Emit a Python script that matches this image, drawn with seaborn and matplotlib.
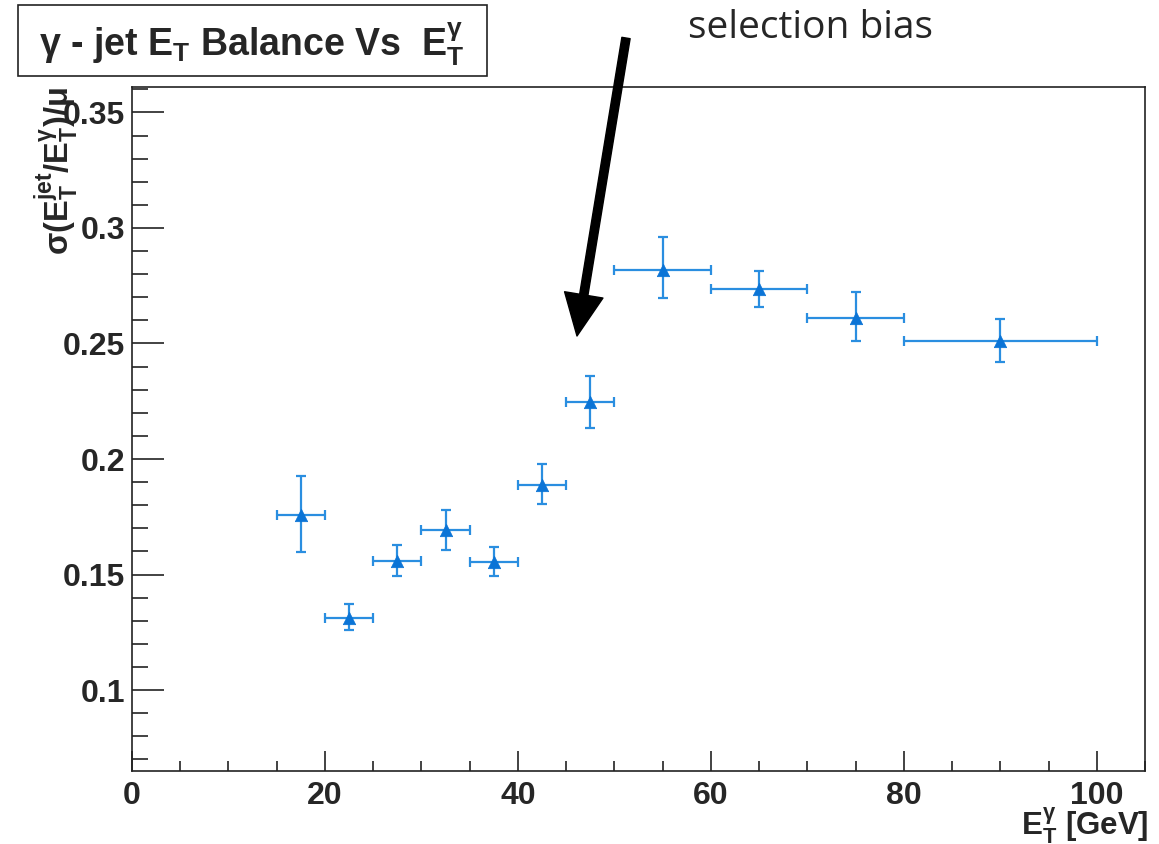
import matplotlib
matplotlib.use("Agg")
import matplotlib.pyplot as plt
from matplotlib.patches import Rectangle, FancyArrowPatch
from matplotlib.ticker import MultipleLocator, FixedLocator, FuncFormatter
import seaborn as sns
import pandas as pd

# ---- data ----
et_center = [17.5, 22.5, 27.5, 32.5, 37.5, 42.5, 47.5, 55.0, 65.0, 75.0, 90.0]
et_halfwidth = [2.5, 2.5, 2.5, 2.5, 2.5, 2.5, 2.5, 5.0, 5.0, 5.0, 10.0]
resolution = [0.1757, 0.1313, 0.1558, 0.1692, 0.1555, 0.1887, 0.2248, 0.2820, 0.2735, 0.2611, 0.2509]
err_up = [0.0170, 0.0058, 0.0071, 0.0087, 0.0065, 0.0090, 0.0112, 0.0139, 0.0079, 0.0111, 0.0095]
err_down = [0.0160, 0.0053, 0.0062, 0.0086, 0.0059, 0.0083, 0.0114, 0.0122, 0.0076, 0.0102, 0.0087]
x_ticks = [0, 20, 40, 60, 80, 100]
y_ticks = [0.1, 0.15, 0.2, 0.25, 0.3, 0.35]

df = pd.DataFrame({"et": et_center, "res": resolution})

sns.set_style("white")
plt.rcParams["font.family"] = ["Liberation Sans", "DejaVu Sans"]
plt.rcParams["mathtext.fontset"] = "custom"
plt.rcParams["mathtext.rm"] = "Liberation Sans:bold"
plt.rcParams["mathtext.it"] = "Liberation Sans:bold"
plt.rcParams["mathtext.bf"] = "Liberation Sans:bold"
plt.rcParams["mathtext.sf"] = "Liberation Sans:bold"

fig = plt.figure(figsize=(11.59, 8.44), dpi=100)
ax = fig.add_axes([132 / 1159, 1 - 771 / 844, (1145 - 132) / 1159, (771 - 87) / 844])

line_col = "#2a8ee0"
mark_col = "#0b74d6"
ax.errorbar(et_center, resolution, xerr=et_halfwidth, yerr=[err_down, err_up],
            fmt="none", ecolor=line_col, elinewidth=1.6, capsize=3.3, capthick=1.6, zorder=2)
sns.scatterplot(data=df, x="et", y="res", marker="^", s=80, color=mark_col,
                edgecolor=mark_col, linewidth=0.5, ax=ax, zorder=3)

ax.set_xlim(0, 105)
ax.set_ylim(0.065, 0.361)
ax.xaxis.set_major_locator(FixedLocator(x_ticks))
ax.xaxis.set_minor_locator(MultipleLocator(5))
ax.yaxis.set_major_locator(FixedLocator(y_ticks))
ax.yaxis.set_minor_locator(MultipleLocator(0.01))
ax.yaxis.set_major_formatter(FuncFormatter(lambda v, p: "%g" % v))

for s in ax.spines.values():
    s.set_linewidth(1.2)
    s.set_color("#222222")
    s.set_visible(True)

ax.tick_params(axis="both", which="both", direction="in", color="#222222", width=1.2,
               left=True, bottom=True, top=False, right=False, labelsize=23)
ax.tick_params(axis="y", which="major", length=23, pad=5)
ax.tick_params(axis="y", which="minor", length=11.5)
ax.tick_params(axis="x", which="major", length=14.5, pad=7)
ax.tick_params(axis="x", which="minor", length=7)
for lab in ax.get_xticklabels() + ax.get_yticklabels():
    lab.set_fontweight("bold")

ax.set_xlabel(r"E$_{T}^{\gamma}$ [GeV]", fontsize=22.5, fontweight="bold", loc="right")
ax.xaxis.set_label_coords(1.004, -0.050)
ax.set_ylabel(r"$\sigma$(E$_{T}^{jet}$/E$_{T}^{\gamma}$)/$\mu$", fontsize=23.5,
              fontweight="bold", loc="top")
ax.yaxis.set_label_coords(-0.05, 1.0)

# title box
fig.patches.append(Rectangle((18 / 1159, 1 - 76 / 844), (487 - 18) / 1159, 71 / 844,
                             transform=fig.transFigure, fill=False, edgecolor="#222222",
                             linewidth=1.2))
fig.text(252 / 1159, 1 - 55 / 844, r"$\gamma$ - jet E$_{T}$ Balance Vs  E$_{T}^{\gamma}$",
         ha="center", va="baseline", fontsize=27, fontweight="bold")

# annotation
fig.text(811 / 1159, 1 - 38 / 844, "selection bias", ha="center", va="baseline",
         fontsize=28, family=["Open Sans", "DejaVu Sans"])
arrow = FancyArrowPatch(posA=(626, 844 - 38), posB=(577, 844 - 336),
                        transform=None,
                        arrowstyle="simple,head_length=1.5,head_width=1.4,tail_width=0.3",
                        mutation_scale=20, color="black", shrinkA=0, shrinkB=0)
fig.patches.append(arrow)

fig.savefig("out.png", dpi=100)
